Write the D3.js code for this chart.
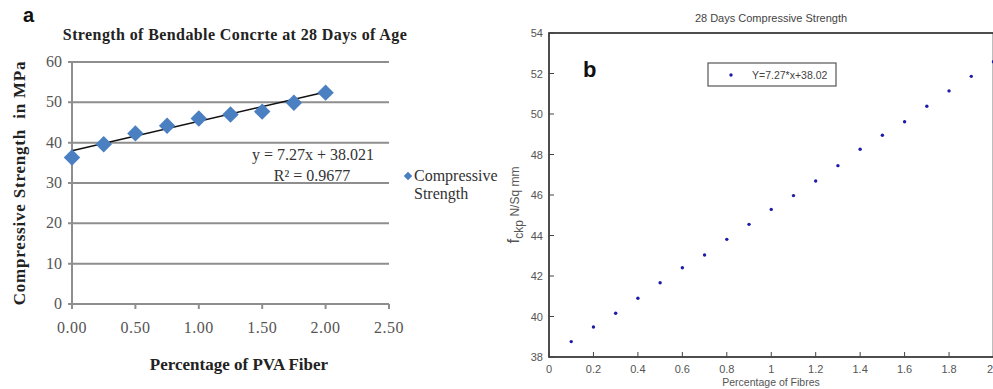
<!DOCTYPE html>
<html>
<head>
<meta charset="utf-8">
<script src="https://cdn.jsdelivr.net/npm/d3@7"></script>
<style>
  body { margin: 0; background: #fff; }
  svg { display: block; }
</style>
</head>
<body>
<svg id="chart" width="993" height="389"></svg>
<script>
// panel a: Excel style chart
const fiberPct = [0, 0.25, 0.5, 0.75, 1.0, 1.25, 1.5, 1.75, 2.0];
const strengthA = [36.3, 39.6, 42.3, 44.2, 46.0, 47.0, 47.7, 49.9, 52.4];
const trendA = { slope: 7.27, intercept: 38.021 };
const xTicksA = [0, 0.5, 1.0, 1.5, 2.0, 2.5];
const yTicksA = [0, 10, 20, 30, 40, 50, 60];

// panel b: matlab style chart
const fibresB = [0.1, 0.2, 0.3, 0.4, 0.5, 0.6, 0.7, 0.8, 0.9, 1.0, 1.1, 1.2, 1.3, 1.4, 1.5, 1.6, 1.7, 1.8, 1.9, 2.0];
const strengthB = [38.76, 39.48, 40.16, 40.9, 41.67, 42.41, 43.04, 43.81, 44.55, 45.29, 45.97, 46.69, 47.45, 48.26, 48.95, 49.62, 50.38, 51.14, 51.86, 52.58];
const xTicksB = [0, 0.2, 0.4, 0.6, 0.8, 1, 1.2, 1.4, 1.6, 1.8, 2];
const yTicksB = [38, 40, 42, 44, 46, 48, 50, 52, 54];

const svg = d3.select('#chart');
const serif = "'Liberation Serif', 'Times New Roman', serif";
const sans = "'Liberation Sans', Arial, sans-serif";

// ---------- panel a ----------
const xa = d3.scaleLinear().domain([0, 2.5]).range([72, 389]);
const ya = d3.scaleLinear().domain([0, 60]).range([304, 62]);
const ga = svg.append('g');

ga.append('text').attr('x', 23).attr('y', 22)
  .style('font-family', sans).style('font-weight', 'bold').style('font-size', '20px')
  .attr('fill', '#111').text('a');

ga.append('text').attr('x', 235).attr('y', 40).attr('text-anchor', 'middle')
  .style('font-family', serif).style('font-weight', 'bold').style('font-size', '16px')
  .style('letter-spacing', '0.4px')
  .attr('fill', '#222').text('Strength of Bendable Concrte at 28 Days of Age');

// grid
ga.selectAll('.grid').data(yTicksA.slice(1)).join('line')
  .attr('x1', xa(0) - 4).attr('x2', xa(2.5))
  .attr('y1', d => ya(d)).attr('y2', d => ya(d))
  .attr('stroke', '#8e8e8e').attr('stroke-width', 2);

// axes
ga.append('line').attr('x1', xa(0)).attr('x2', xa(0)).attr('y1', ya(60)).attr('y2', ya(0))
  .attr('stroke', '#8e8e8e').attr('stroke-width', 2);
ga.append('line').attr('x1', xa(0) - 4).attr('x2', xa(2.5)).attr('y1', ya(0)).attr('y2', ya(0))
  .attr('stroke', '#8e8e8e').attr('stroke-width', 2);
ga.selectAll('.xt').data(xTicksA).join('line')
  .attr('x1', d => xa(d)).attr('x2', d => xa(d))
  .attr('y1', ya(0)).attr('y2', ya(0) + 5)
  .attr('stroke', '#8e8e8e').attr('stroke-width', 2);

ga.selectAll('.ylab').data(yTicksA).join('text')
  .attr('x', 62).attr('y', d => ya(d) + 5).attr('text-anchor', 'end')
  .style('font-family', serif).style('font-size', '16px').attr('fill', '#555')
  .text(d => d);
ga.selectAll('.xlab').data(xTicksA).join('text')
  .attr('x', d => xa(d)).attr('y', 333).attr('text-anchor', 'middle')
  .style('font-family', serif).style('font-size', '16px').style('letter-spacing', '0.5px')
  .attr('fill', '#555')
  .text(d => d.toFixed(2));

ga.append('text').attr('x', 239).attr('y', 370).attr('text-anchor', 'middle')
  .style('font-family', serif).style('font-weight', 'bold').style('font-size', '17px')
  .attr('fill', '#222').text('Percentage of PVA Fiber');

ga.append('text').attr('transform', 'translate(25,183) rotate(-90)').attr('text-anchor', 'middle')
  .style('font-family', serif).style('font-weight', 'bold').style('font-size', '17px')
  .style('letter-spacing', '0.8px').style('white-space', 'pre')
  .attr('fill', '#222').text('Compressive Strength\u00a0\u00a0in MPa');

// trendline
const lineA = d3.line().x(d => xa(d)).y(d => ya(trendA.slope * d + trendA.intercept));
ga.append('path').datum([0, 2.0]).attr('d', lineA)
  .attr('fill', 'none').attr('stroke', '#111').attr('stroke-width', 1.5);

// diamonds
const diamond = d3.symbol().type(d3.symbolSquare).size(135);
ga.selectAll('.pt').data(fiberPct).join('path')
  .attr('d', diamond)
  .attr('transform', (d, i) => `translate(${xa(d)},${ya(strengthA[i])}) rotate(45)`)
  .attr('fill', '#4a7fc1');

ga.append('text').attr('x', 313).attr('y', 160).attr('text-anchor', 'middle')
  .style('font-family', serif).style('font-size', '16px').attr('fill', '#333')
  .text('y = 7.27x + 38.021');
ga.append('text').attr('x', 312).attr('y', 181).attr('text-anchor', 'middle')
  .style('font-family', serif).style('font-size', '16px').attr('fill', '#333')
  .text('R² = 0.9677');

// legend
ga.append('path').attr('d', d3.symbol().type(d3.symbolSquare).size(36))
  .attr('transform', 'translate(408,176) rotate(45)').attr('fill', '#4a7fc1');
ga.append('text').attr('x', 414).attr('y', 181)
  .style('font-family', serif).style('font-size', '16px').attr('fill', '#333').text('Compressive');
ga.append('text').attr('x', 414).attr('y', 199)
  .style('font-family', serif).style('font-size', '16px').attr('fill', '#333').text('Strength');

// ---------- panel b ----------
const xb = d3.scaleLinear().domain([0, 2]).range([549, 993.5]);
const yb = d3.scaleLinear().domain([38, 54]).range([357, 33]);
const gb = svg.append('g');

gb.append('text').attr('x', 771).attr('y', 22).attr('text-anchor', 'middle')
  .style('font-family', sans).style('font-size', '11px').attr('fill', '#444')
  .text('28 Days Compressive Strength');

gb.append('rect').attr('x', xb(0)).attr('y', yb(54))
  .attr('width', xb(2) - xb(0)).attr('height', yb(38) - yb(54))
  .attr('fill', 'none').attr('stroke', '#222').attr('stroke-width', 1.6);

gb.selectAll('.ytk').data(yTicksB).join('line')
  .attr('x1', xb(0)).attr('x2', xb(0) + 5)
  .attr('y1', d => yb(d)).attr('y2', d => yb(d))
  .attr('stroke', '#444').attr('stroke-width', 1);
gb.selectAll('.xtk').data(xTicksB).join('line')
  .attr('x1', d => xb(d)).attr('x2', d => xb(d))
  .attr('y1', yb(38)).attr('y2', yb(38) - 5)
  .attr('stroke', '#444').attr('stroke-width', 1);

gb.selectAll('.ylb').data(yTicksB).join('text')
  .attr('x', 543).attr('y', d => yb(d) + 4).attr('text-anchor', 'end')
  .style('font-family', sans).style('font-size', '11px').attr('fill', '#555')
  .text(d => d);
gb.selectAll('.xlb').data(xTicksB).join('text')
  .attr('x', d => d === 2 ? 993 : xb(d)).attr('y', 373)
  .attr('text-anchor', d => d === 2 ? 'end' : 'middle')
  .style('font-family', sans).style('font-size', '11px').attr('fill', '#555')
  .text(d => d);

gb.append('text').attr('x', 771).attr('y', 386).attr('text-anchor', 'middle')
  .style('font-family', sans).style('font-size', '10.5px').attr('fill', '#555')
  .text('Percentage of Fibres');

const ylabB = gb.append('text').attr('transform', 'translate(519,205) rotate(-90)').attr('text-anchor', 'middle')
  .style('font-family', sans).style('font-size', '12px').attr('fill', '#555');
ylabB.append('tspan').style('font-size', '17px').text('f');
ylabB.append('tspan').attr('dy', 4).style('font-size', '12px').text('ckp');
ylabB.append('tspan').attr('dy', -4).text(' N/Sq mm');

gb.append('text').attr('x', 583).attr('y', 77)
  .style('font-family', sans).style('font-weight', 'bold').style('font-size', '22px')
  .attr('fill', '#111').text('b');

gb.append('rect').attr('x', 708).attr('y', 63).attr('width', 128).attr('height', 23)
  .attr('fill', '#fff').attr('stroke', '#555').attr('stroke-width', 1.2);
gb.append('circle').attr('cx', 731).attr('cy', 75).attr('r', 1.7).attr('fill', '#1c1ca8');
gb.append('text').attr('x', 752).attr('y', 79)
  .style('font-family', sans).style('font-size', '10.5px').attr('fill', '#444')
  .text('Y=7.27*x+38.02');

gb.selectAll('.dot').data(fibresB).join('circle')
  .attr('cx', d => xb(d)).attr('cy', (d, i) => yb(strengthB[i]))
  .attr('r', 1.7).attr('fill', '#1c1ca8');
</script>
</body>
</html>
